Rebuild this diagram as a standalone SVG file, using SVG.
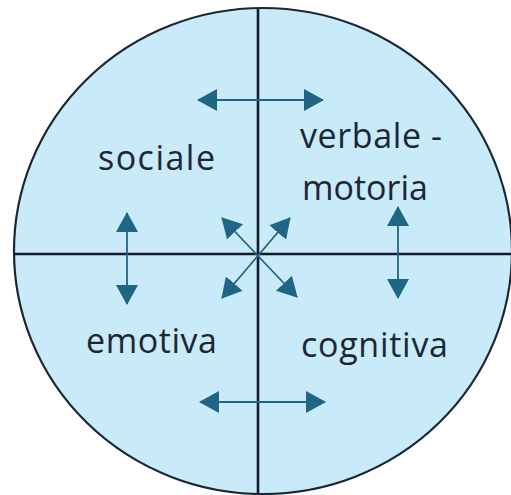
<svg xmlns="http://www.w3.org/2000/svg" width="511" height="495" viewBox="0 0 511 495">
<style>
.bg{fill:#c8eaf9;stroke:#1b2733;stroke-width:2.2}
.ax{stroke:#111c26;stroke-width:2.6;fill:none}
.arr{stroke:#1f6584;stroke-width:1.8;fill:none;marker-start:url(#ah);marker-end:url(#ah)}
.lbl{font-family:"Open Sans","Noto Sans","DejaVu Sans",sans-serif;font-size:34px;fill:#1c2733}
</style>
<defs>
<marker id="ah" markerUnits="userSpaceOnUse" markerWidth="20" markerHeight="22" refX="19" refY="11" orient="auto-start-reverse" viewBox="0 0 20 22">
<path d="M0,0 L20,11 L0,22 z" fill="#1f6584"/>
</marker>
</defs>
<g id="circle">
<ellipse class="bg" cx="263" cy="251" rx="249" ry="243"/>
</g>
<g id="axes">
<line class="ax" x1="258" y1="9" x2="258" y2="494"/>
<line class="ax" x1="14" y1="254" x2="511" y2="254"/>
</g>
<g id="connectors">
<line class="arr" x1="198" y1="100" x2="323" y2="100"/>
<line class="arr" x1="200" y1="402" x2="325" y2="402"/>
<line class="arr" x1="127" y1="213" x2="127" y2="304"/>
<line class="arr" x1="398" y1="207" x2="398" y2="298"/>
<line class="arr" x1="222" y1="218" x2="297" y2="297"/>
<line class="arr" x1="290" y1="218" x2="222" y2="298"/>
</g>
<g id="sociale"><text class="lbl" x="98" y="170" textLength="117">sociale</text></g>
<g id="verbale-motoria">
<text class="lbl" x="300" y="148" textLength="142">verbale -</text>
<text class="lbl" x="302" y="200" textLength="126">motoria</text>
</g>
<g id="emotiva"><text class="lbl" x="86" y="353" textLength="131">emotiva</text></g>
<g id="cognitiva"><text class="lbl" x="301" y="357" textLength="147">cognitiva</text></g>
</svg>
